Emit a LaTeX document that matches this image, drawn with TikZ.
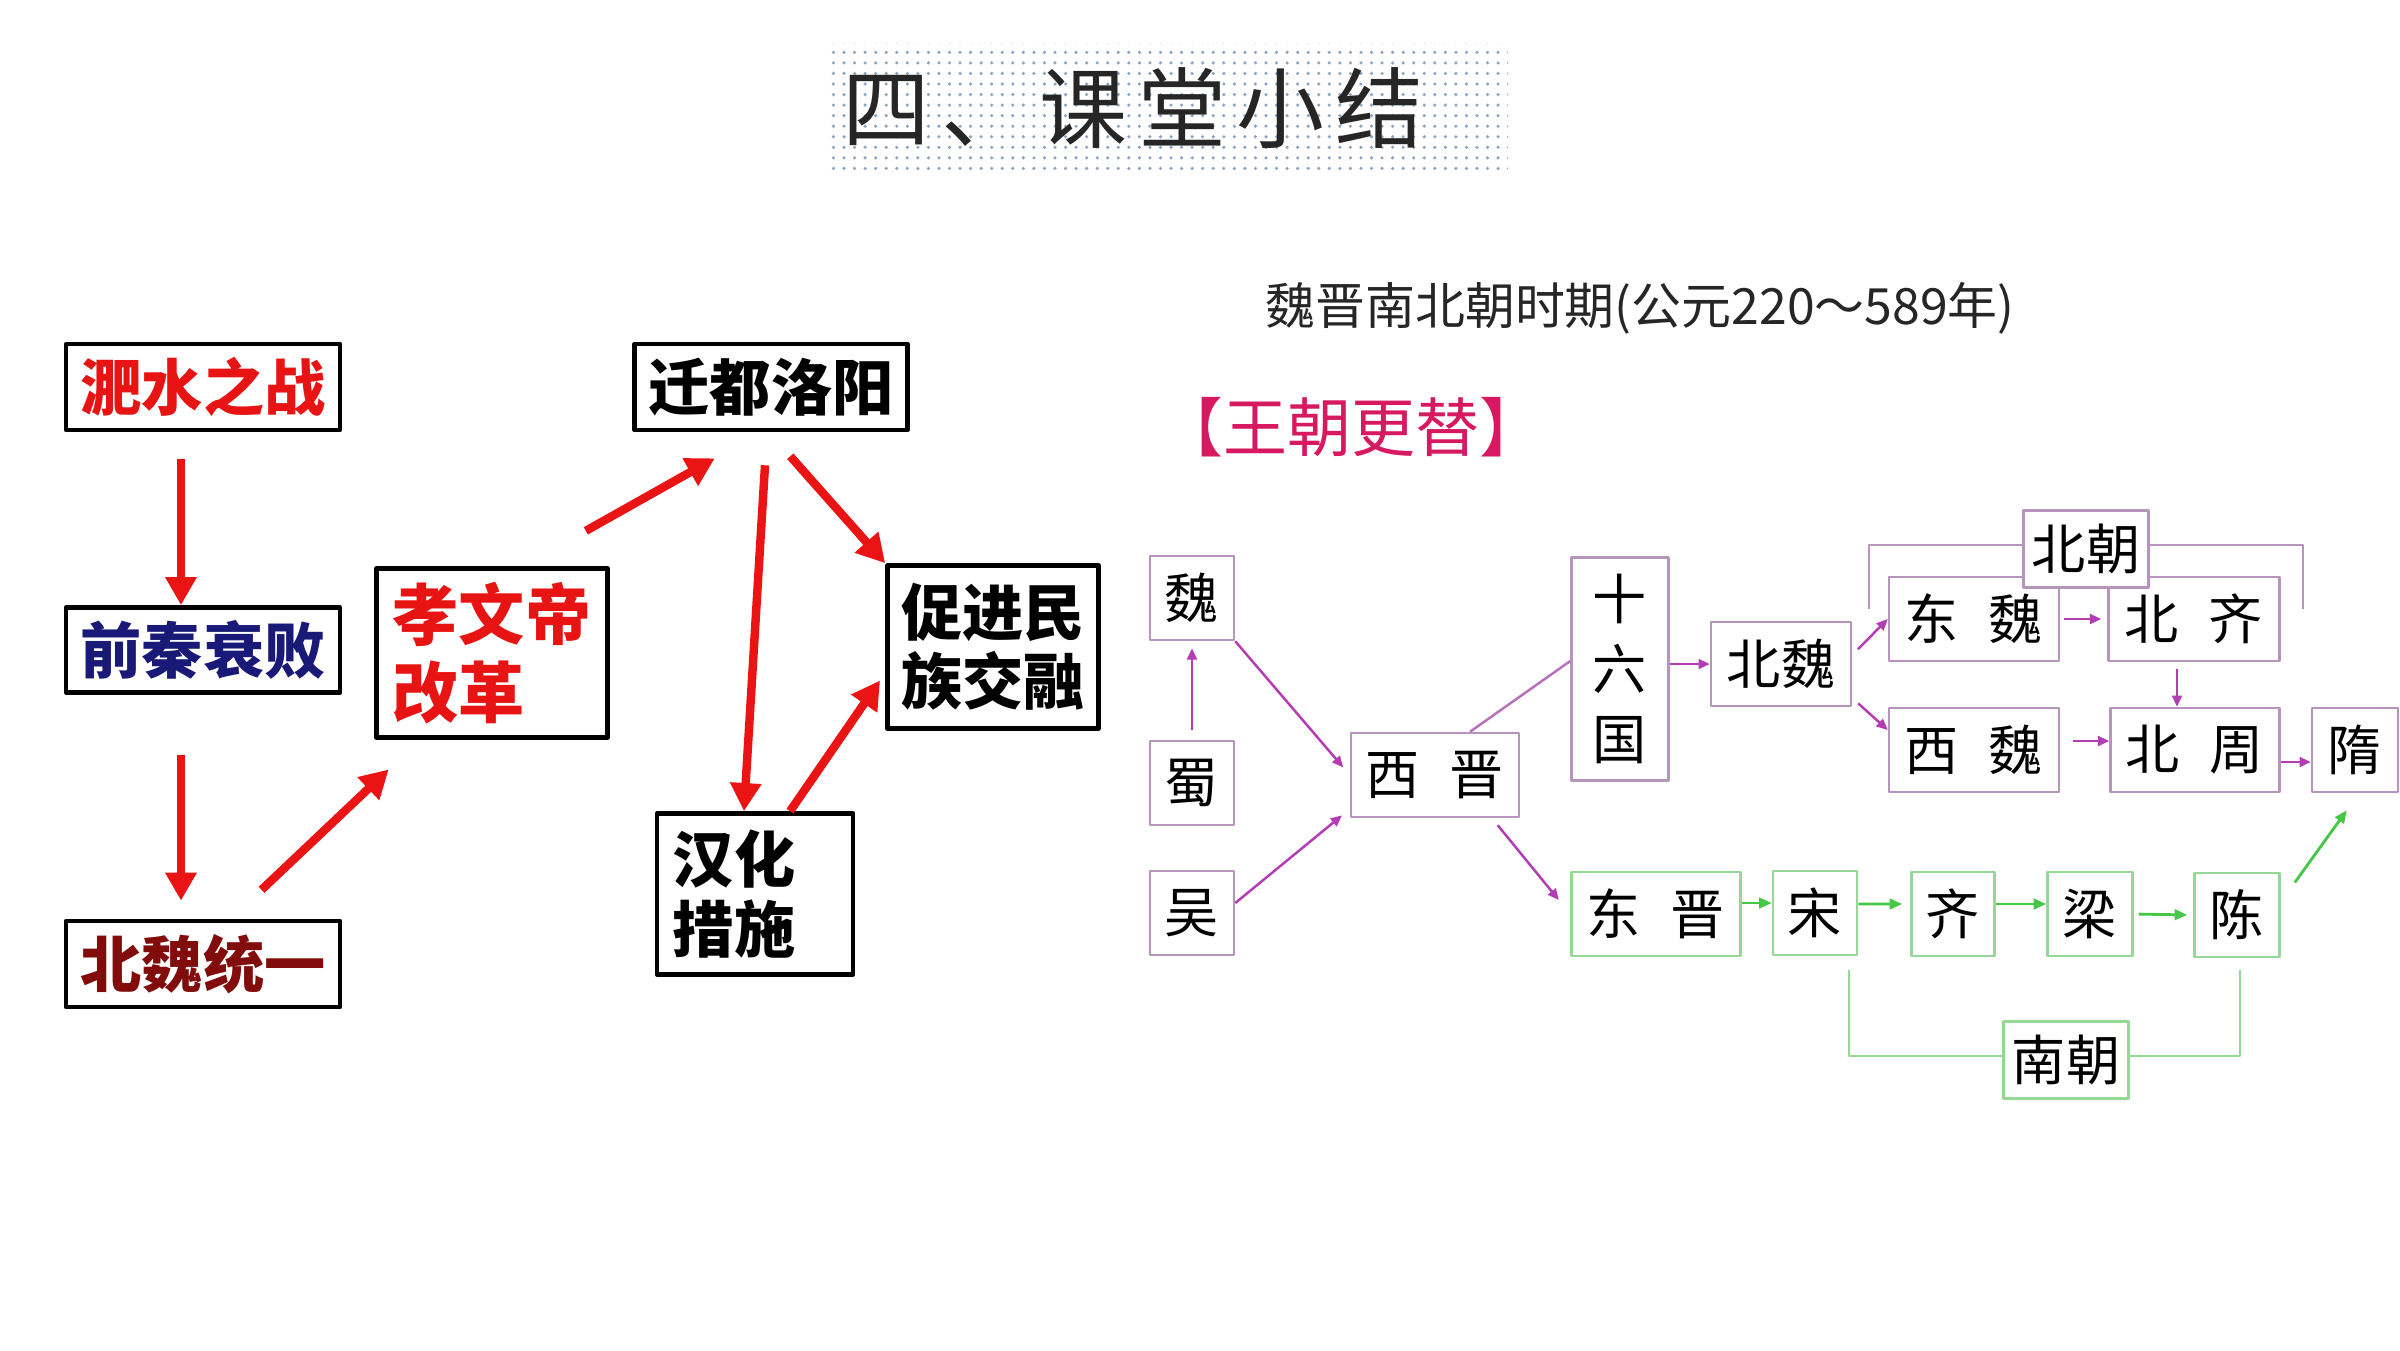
\documentclass[tikz,border=0pt]{standalone}
\usepackage{fontspec}
\setmainfont{Noto Sans CJK SC}
\newfontfamily\titlefont[LetterSpace=12]{Noto Sans CJK SC}
\usetikzlibrary{arrows.meta,patterns}

\definecolor{arrowred}{RGB}{235,20,20}
\definecolor{textred}{RGB}{232,20,20}
\definecolor{textnavy}{RGB}{25,25,120}
\definecolor{textmaroon}{RGB}{130,12,12}
\definecolor{dynpink}{RGB}{214,25,96}
\definecolor{nline}{RGB}{182,148,188}
\definecolor{narrow}{RGB}{180,60,180}
\definecolor{sline}{RGB}{150,215,150}
\definecolor{sarrow}{RGB}{70,200,70}
\definecolor{dotblue}{RGB}{140,165,195}
\definecolor{titlegray}{RGB}{38,38,38}

\newcommand{\chgap}{\hspace{0.55em}}

\begin{document}
\begin{tikzpicture}[
		x=0.01cm,
		y=-0.01cm,
		line join=round,
		lbox/.style={draw, line width=1.3pt, inner sep=0pt,
			font=\bfseries\fontsize{17.4}{19.6}\selectfont},
		redarr/.style={draw=arrowred, line width=2.4pt,
			-{Triangle[length=8pt,width=8.5pt]}},
		northbox/.style={draw=nline, line width=0.7pt, inner sep=0pt, fill=white,
			minimum height=0.84cm, font=\fontsize{15.4}{19.9}\selectfont},
		southbox/.style={draw=sline, line width=0.7pt, inner sep=0pt, fill=white,
			minimum height=0.84cm, font=\fontsize{15.4}{19.9}\selectfont},
		northarr/.style={draw=narrow, line width=0.7pt,
			-{Triangle[length=3.2pt,width=2.8pt]}},
		southarr/.style={draw=sarrow, line width=0.8pt,
			-{Triangle[length=3.6pt,width=3pt]}}
		]
		
		\useasboundingbox[fill=white] (0,0) rectangle (2400,1350);
		
		%------------------------------------------------------------------
		% Title
		%------------------------------------------------------------------
		\fill[pattern=dots, pattern color=dotblue] (827,43) rectangle (1508,173);
		\node[text=titlegray, font=\titlefont\fontsize{25}{28}\selectfont] (title) at (1133,108) {四、课堂小结};
		
		%------------------------------------------------------------------
		% Left chart
		%------------------------------------------------------------------
		\node[lbox, text=textred,    minimum width=2.74cm, minimum height=0.86cm] (feishui) at (203,387) {淝水之战};
		\node[lbox, text=textnavy,   minimum width=2.74cm, minimum height=0.85cm] (qianqin) at (203,650) {前秦衰败};
		\node[lbox, text=textmaroon, minimum width=2.74cm, minimum height=0.86cm] (tongyi)  at (203,964) {北魏统一};
		
		\node[lbox, text=textred, minimum width=2.31cm, minimum height=1.69cm, align=left,
		font=\bfseries\fontsize{18.8}{22}\selectfont] (xiaowen) at (492,653) {孝文帝\\改革};
		
		\node[lbox, minimum width=2.73cm, minimum height=0.86cm] (qiandu) at (771,387) {迁都洛阳};
		\node[lbox, minimum width=2.11cm, minimum height=1.63cm, align=left] (cujin) at (993,647) {促进民\\族交融};
		\node[lbox, minimum width=1.96cm, minimum height=1.61cm, text width=1.64cm, align=left,
		font=\bfseries\fontsize{17.4}{20}\selectfont] (hanhua) at (755,894) {汉化\\措施};
		
		% Red arrows
		\draw[redarr, shorten <=0.27cm] ([xshift=-0.22cm]feishui.south) -- ([xshift=-0.22cm]qianqin.north);
		\draw[redarr, shorten <=0.6cm, shorten >=0.18cm] ([xshift=-0.22cm]qianqin.south) -- ([xshift=-0.22cm]tongyi.north);
		\draw[redarr, shorten <=0.42cm, shorten >=0.43cm] ([xshift=0.28cm]tongyi.north) -- ([xshift=-0.72cm]xiaowen.south);
		\draw[redarr, shorten <=0.72cm, shorten >=0.53cm] ([xshift=0.31cm]xiaowen.north) -- ([xshift=-0.10cm]qiandu.south);
		\draw[redarr, shorten <=0.33cm] ([xshift=-0.04cm]qiandu.south) -- ([xshift=-0.11cm]hanhua.north);
		\draw[redarr, shorten <=0.32cm] ([xshift=-0.02cm]qiandu.south) -- (cujin.north west);
		\draw[redarr, shorten >=0.09cm] ([xshift=0.35cm]hanhua.north) -- ([yshift=-0.26cm]cujin.west);
		
		%------------------------------------------------------------------
		% Right chart: headings
		%------------------------------------------------------------------
		\node[text=titlegray, font=\fontsize{14.2}{16}\selectfont] (period) at (1640,308) {魏晋南北朝时期(公元220～589年)};
		\node[text=dynpink, font=\fontsize{18.2}{20}\selectfont] (change) at (1351,427) {【王朝更替】};
		
		% Brackets behind the group labels
		\draw[nline, line width=0.7pt] (1869,609) -- (1869,545) -- (2303,545) -- (2303,609);
		\draw[sline, line width=0.7pt] (1849,970) -- (1849,1056) -- (2240,1056) -- (2240,970);
		
		%------------------------------------------------------------------
		% Right chart: dynasties
		%------------------------------------------------------------------
		\node[northbox, minimum width=0.84cm] (wei) at (1192,598) {魏};
		\node[northbox, minimum width=0.84cm] (shu) at (1192,783) {蜀};
		\node[northbox, minimum width=0.84cm] (wu)  at (1192,913) {吴};
		
		\node[northbox, minimum width=1.68cm] (xijin) at (1435,775) {西\chgap 晋};
		\node[northbox, minimum width=0.97cm, minimum height=2.23cm, align=center] (shiliu) at (1620,669) {十\\六\\国};
		\node[northbox, minimum width=1.40cm] (beiwei) at (1781,664) {北魏};
		
		\node[northbox, minimum width=1.70cm] (dongwei) at (1974,619) {东\chgap 魏};
		\node[northbox, minimum width=1.71cm] (beiqi)   at (2194,619) {北\chgap 齐};
		\node[northbox, minimum width=1.70cm] (xiwei)   at (1974,750) {西\chgap 魏};
		\node[northbox, minimum width=1.69cm] (beizhou) at (2195,750) {北\chgap 周};
		\node[northbox, minimum width=0.86cm] (sui)     at (2355,750) {隋};
		\node[northbox, minimum width=1.25cm, minimum height=0.77cm] (beichao) at (2086,549) {北朝};
		
		\node[southbox, minimum width=1.69cm] (dongjin) at (1656,914) {东\chgap 晋};
		\node[southbox, minimum width=0.84cm] (song)  at (1815,913) {宋};
		\node[southbox, minimum width=0.83cm] (qi)    at (1953,914) {齐};
		\node[southbox, minimum width=0.85cm] (liang) at (2090,914) {梁};
		\node[southbox, minimum width=0.85cm] (chen)  at (2237,915) {陈};
		\node[southbox, minimum width=1.25cm, minimum height=0.77cm] (nanchao) at (2066,1060) {南朝};
		
		% Northern arrows
		\draw[northarr, shorten <=0.1cm, shorten >=0.07cm] (shu.north) -- (wei.south);
		\draw[northarr, shorten >=0.1cm] (wei.south east) -- (xijin.west);
		\draw[northarr, shorten >=0.1cm] ([yshift=0.1cm]wu.east) -- ([yshift=-0.34cm]xijin.west);
		\draw[nline!60!narrow, line width=0.7pt] ([xshift=0.35cm]xijin.north) -- ([yshift=0.08cm]shiliu.west);
		\draw[northarr, shorten <=0.09cm, shorten >=0.18cm] ([xshift=0.57cm]xijin.south) -- (dongjin.west);
		\draw[northarr] (shiliu.east |- beiwei.west) -- (beiwei.west);
		\draw[northarr, shorten <=0.08cm] ([yshift=0.09cm]beiwei.east) -- (dongwei.west);
		\draw[northarr, shorten <=0.08cm] ([yshift=-0.34cm]beiwei.east) -- ([yshift=0.2cm]xiwei.west);
		\draw[northarr, shorten <=0.04cm, shorten >=0.06cm] (dongwei.east) -- (beiqi.west);
		\draw[northarr, shorten <=0.07cm] ([xshift=-0.17cm]beiqi.south) -- ([xshift=-0.18cm]beizhou.north);
		\draw[northarr, shorten <=0.13cm] ([yshift=0.09cm]xiwei.east) -- ([yshift=0.09cm]beizhou.west);
		\draw[northarr] ([yshift=-0.12cm]beizhou.east) -- ([yshift=-0.12cm]sui.west);
		
		% Southern arrows
		\draw[southarr] ([yshift=0.11cm]dongjin.east) -- ([yshift=0.1cm]song.west);
		\draw[southarr, shorten >=0.08cm] ([yshift=0.09cm]song.east) -- ([yshift=0.1cm]qi.west);
		\draw[southarr] ([yshift=0.1cm]qi.east) -- ([yshift=0.1cm]liang.west);
		\draw[southarr, shorten <=0.05cm, shorten >=0.06cm] (liang.east) -- (chen.west);
		\draw[southarr, shorten <=0.24cm, shorten >=0.21cm] ([yshift=0.13cm]chen.east) -- ([xshift=0.04cm]sui.south);
		
	\end{tikzpicture}
\end{document}
